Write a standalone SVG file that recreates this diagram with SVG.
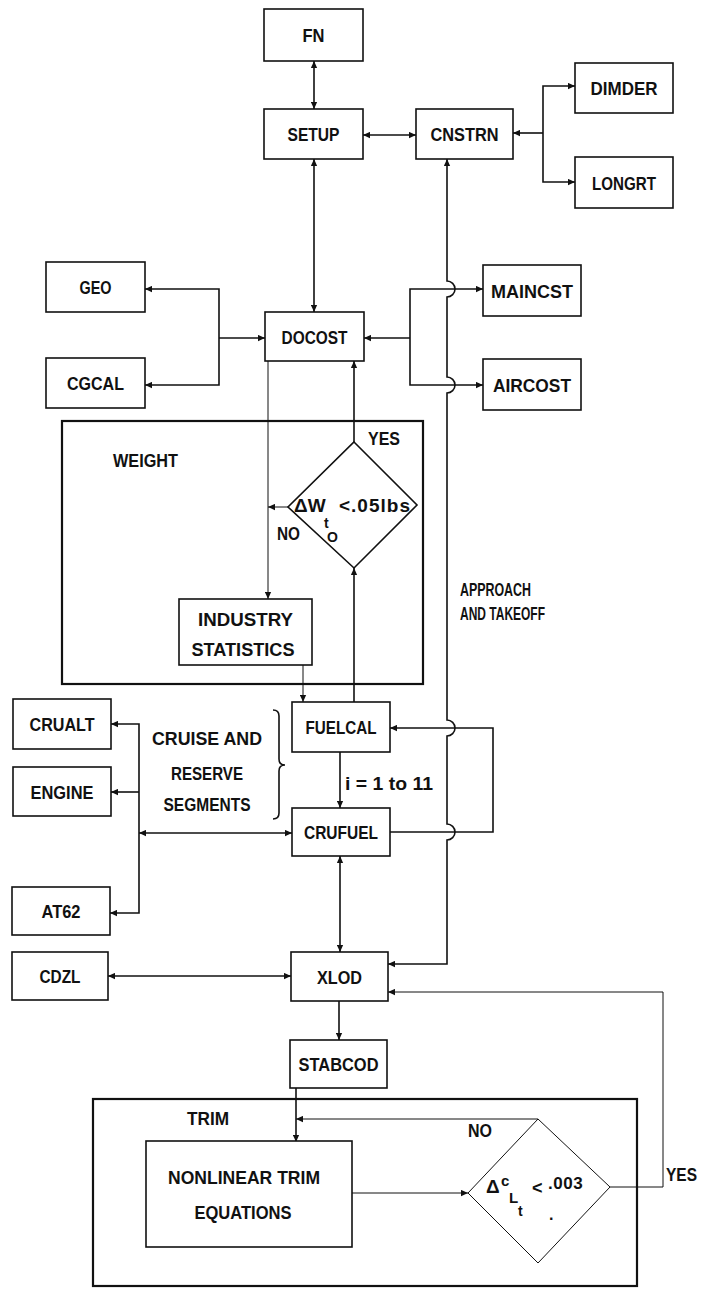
<svg xmlns="http://www.w3.org/2000/svg" width="704" height="1290" viewBox="0 0 704 1290">
<style>
.box{fill:#fff;stroke:#111;stroke-width:1.6}
.frame{fill:none;stroke:#111;stroke-width:2.2}
.ln{fill:none;stroke:#111;stroke-width:1.6}
.thin{fill:none;stroke:#111;stroke-width:1}
text{font-family:"Liberation Sans",Arial,sans-serif;font-weight:bold;font-size:19px;fill:#111}
.c{text-anchor:middle}
.sm{font-size:14px}
</style>
<defs>
<marker id="a" viewBox="0 0 10 10" refX="10" refY="5" markerWidth="8" markerHeight="7" markerUnits="userSpaceOnUse" orient="auto-start-reverse">
<path d="M0,0.5 L10,5 L0,9.5 z" fill="#111"/>
</marker>
</defs>
<rect width="704" height="1290" fill="#fff"/>

<g id="weight-frame"><rect class="frame" x="62" y="421" width="361" height="263"/><text x="113" y="467" textLength="65" lengthAdjust="spacingAndGlyphs">WEIGHT</text></g>
<g id="trim-frame"><rect class="frame" x="93" y="1099" width="544" height="187"/><text x="187" y="1125" textLength="42" lengthAdjust="spacingAndGlyphs">TRIM</text></g>

<g id="connectors">
<path class="ln" d="M314,61 V109" marker-start="url(#a)" marker-end="url(#a)"/>
<path class="ln" d="M363,135 H416" marker-start="url(#a)" marker-end="url(#a)"/>
<path class="ln" d="M543,133 H513" marker-end="url(#a)"/>
<path class="ln" d="M575,86 H543 V182 H575" marker-start="url(#a)" marker-end="url(#a)"/>
<path class="ln" d="M314,159 V312" marker-start="url(#a)" marker-end="url(#a)"/>
<path class="ln" d="M219,338 H265" marker-end="url(#a)"/>
<path class="ln" d="M145,289 H219 V385 H145" marker-start="url(#a)" marker-end="url(#a)"/>
<path class="ln" d="M410,338 H364" marker-end="url(#a)"/>
<path class="ln" d="M483,289 H410 V385 H483" marker-start="url(#a)" marker-end="url(#a)"/>
<path class="thin" d="M268,361 V599" marker-end="url(#a)"/>
<path class="thin" d="M288,507 H268" marker-end="url(#a)"/>
<path class="ln" d="M354,442 V361" marker-end="url(#a)"/>
<path class="ln" d="M354,702 V568" marker-end="url(#a)"/>
<path class="thin" d="M303,665 V702" marker-end="url(#a)"/>
<path class="ln" d="M340,752 V808" marker-end="url(#a)"/>
<path class="ln" d="M390,832 H493 V728 H390" marker-end="url(#a)"/>
<path class="ln" d="M292,833 H139" marker-start="url(#a)" marker-end="url(#a)"/>
<path class="ln" d="M111,724 H139 V913 H110" marker-start="url(#a)" marker-end="url(#a)"/>
<path class="ln" d="M139,792 H111" marker-end="url(#a)"/>
<path class="ln" d="M340,856 V952" marker-start="url(#a)" marker-end="url(#a)"/>
<path class="ln" d="M108,976 H291" marker-start="url(#a)" marker-end="url(#a)"/>
<path class="ln" d="M447,159 V281 A8,8 0 0 1 447,297 V377 A8,8 0 0 1 447,393 V720 A8,8 0 0 1 447,736 V824 A8,8 0 0 1 447,840 V964 H388" marker-start="url(#a)" marker-end="url(#a)"/>
<path class="ln" d="M339,1001 V1040" marker-end="url(#a)"/>
<path class="ln" d="M296,1088 V1142" marker-end="url(#a)"/>
<path class="thin" d="M538,1119 H296" marker-end="url(#a)"/>
<path class="thin" d="M352,1193 H468" marker-end="url(#a)"/>
<path class="thin" d="M610,1187 H663 V992 H388" marker-end="url(#a)"/>
<path class="ln" d="M273,710 Q279,710 279,716 V759 Q279,765 285,765 Q279,765 279,771 V813 Q279,819 273,819"/>
</g>

<g id="FN"><rect class="box" x="264" y="9" width="99" height="52"/><text x="313.5" y="42" class="c" textLength="22" lengthAdjust="spacingAndGlyphs">FN</text></g>
<g id="SETUP"><rect class="box" x="264" y="109" width="99" height="50"/><text x="313.5" y="141" class="c" textLength="52" lengthAdjust="spacingAndGlyphs">SETUP</text></g>
<g id="CNSTRN"><rect class="box" x="416" y="109" width="97" height="50"/><text x="464.5" y="141" class="c" textLength="68" lengthAdjust="spacingAndGlyphs">CNSTRN</text></g>
<g id="DIMDER"><rect class="box" x="575" y="63" width="98" height="50"/><text x="624" y="95" class="c" textLength="67" lengthAdjust="spacingAndGlyphs">DIMDER</text></g>
<g id="LONGRT"><rect class="box" x="575" y="157" width="98" height="51"/><text x="624" y="189.5" class="c" textLength="64" lengthAdjust="spacingAndGlyphs">LONGRT</text></g>
<g id="GEO"><rect class="box" x="46" y="262" width="99" height="50"/><text x="95.5" y="294" class="c" textLength="32" lengthAdjust="spacingAndGlyphs">GEO</text></g>
<g id="CGCAL"><rect class="box" x="46" y="358" width="99" height="50"/><text x="95.5" y="390" class="c" textLength="57" lengthAdjust="spacingAndGlyphs">CGCAL</text></g>
<g id="DOCOST"><rect class="box" x="265" y="312" width="99" height="49"/><text x="314.5" y="344" class="c" textLength="66" lengthAdjust="spacingAndGlyphs">DOCOST</text></g>
<g id="MAINCST"><rect class="box" x="483" y="265" width="98" height="51"/><text x="532" y="297.5" class="c" textLength="82" lengthAdjust="spacingAndGlyphs">MAINCST</text></g>
<g id="AIRCOST"><rect class="box" x="483" y="359" width="98" height="51"/><text x="532" y="391.5" class="c" textLength="78" lengthAdjust="spacingAndGlyphs">AIRCOST</text></g>

<g id="weight-decision">
<path class="ln" d="M354,442 L417,505 L354,568 L288,507 Z" fill="#fff"/>
<text x="294" y="512" font-size="16">ΔW<tspan x="324" y="528" font-size="14">t</tspan><tspan x="327" y="542" font-size="14">O</tspan><tspan x="339" y="512" font-size="19" letter-spacing="1">&lt;.05lbs</tspan></text>
<text x="368" y="445" textLength="32" lengthAdjust="spacingAndGlyphs">YES</text>
<text x="277" y="540" textLength="23" lengthAdjust="spacingAndGlyphs">NO</text>
</g>

<g id="INDUSTRY"><rect class="box" x="179" y="599" width="133" height="66"/><text x="245.5" y="626" class="c" textLength="95" lengthAdjust="spacingAndGlyphs">INDUSTRY</text><text x="243" y="656" class="c" textLength="103" lengthAdjust="spacingAndGlyphs">STATISTICS</text></g>

<g id="approach-label"><text x="460" y="596" textLength="71" lengthAdjust="spacingAndGlyphs">APPROACH</text><text x="460" y="620" textLength="85" lengthAdjust="spacingAndGlyphs">AND TAKEOFF</text></g>

<g id="FUELCAL"><rect class="box" x="292" y="702" width="98" height="50"/><text x="341" y="734" class="c" textLength="71" lengthAdjust="spacingAndGlyphs">FUELCAL</text></g>
<g id="CRUALT"><rect class="box" x="13" y="699" width="98" height="50"/><text x="62" y="731" class="c" textLength="65" lengthAdjust="spacingAndGlyphs">CRUALT</text></g>
<g id="ENGINE"><rect class="box" x="13" y="767" width="98" height="49"/><text x="62" y="798.5" class="c" textLength="63" lengthAdjust="spacingAndGlyphs">ENGINE</text></g>
<g id="segments-label"><text x="207" y="745" class="c" textLength="110" lengthAdjust="spacingAndGlyphs">CRUISE AND</text><text x="207" y="780" class="c" textLength="72" lengthAdjust="spacingAndGlyphs">RESERVE</text><text x="207" y="811" class="c" textLength="87" lengthAdjust="spacingAndGlyphs">SEGMENTS</text></g>
<g id="loop-label"><text x="345" y="790" textLength="88" lengthAdjust="spacingAndGlyphs">i = 1 to 11</text></g>
<g id="CRUFUEL"><rect class="box" x="292" y="808" width="98" height="48"/><text x="341" y="839" class="c" textLength="74" lengthAdjust="spacingAndGlyphs">CRUFUEL</text></g>
<g id="AT62"><rect class="box" x="12" y="887" width="98" height="48"/><text x="61" y="918" class="c" textLength="39" lengthAdjust="spacingAndGlyphs">AT62</text></g>
<g id="CDZL"><rect class="box" x="12" y="952" width="96" height="48"/><text x="60" y="983" class="c" textLength="41" lengthAdjust="spacingAndGlyphs">CDZL</text></g>
<g id="XLOD"><rect class="box" x="291" y="952" width="97" height="49"/><text x="339.5" y="983.5" class="c" textLength="45" lengthAdjust="spacingAndGlyphs">XLOD</text></g>
<g id="STABCOD"><rect class="box" x="290" y="1040" width="97" height="48"/><text x="338.5" y="1071" class="c" textLength="80" lengthAdjust="spacingAndGlyphs">STABCOD</text></g>
<g id="NONLINEAR"><rect class="box" x="146" y="1141" width="206" height="106"/><text x="244" y="1184" class="c" textLength="152" lengthAdjust="spacingAndGlyphs">NONLINEAR TRIM</text><text x="243" y="1219" class="c" textLength="97" lengthAdjust="spacingAndGlyphs">EQUATIONS</text></g>

<g id="trim-decision">
<path class="thin" d="M538,1119 L610,1187 L538,1263 L468,1193 Z" fill="#fff"/>
<text x="486" y="1193" font-size="19">Δ<tspan x="501" y="1186" font-size="15">c</tspan><tspan x="509" y="1203" font-size="15">L</tspan><tspan x="518" y="1216" font-size="14">t</tspan><tspan x="532" y="1194" font-size="18">&lt;</tspan><tspan x="548" y="1189" font-size="17" letter-spacing="0.5">.003</tspan><tspan x="549" y="1220" font-size="16">.</tspan></text>
<text x="468" y="1137" textLength="24" lengthAdjust="spacingAndGlyphs">NO</text>
<text x="666" y="1181" textLength="31" lengthAdjust="spacingAndGlyphs">YES</text>
</g>
</svg>
